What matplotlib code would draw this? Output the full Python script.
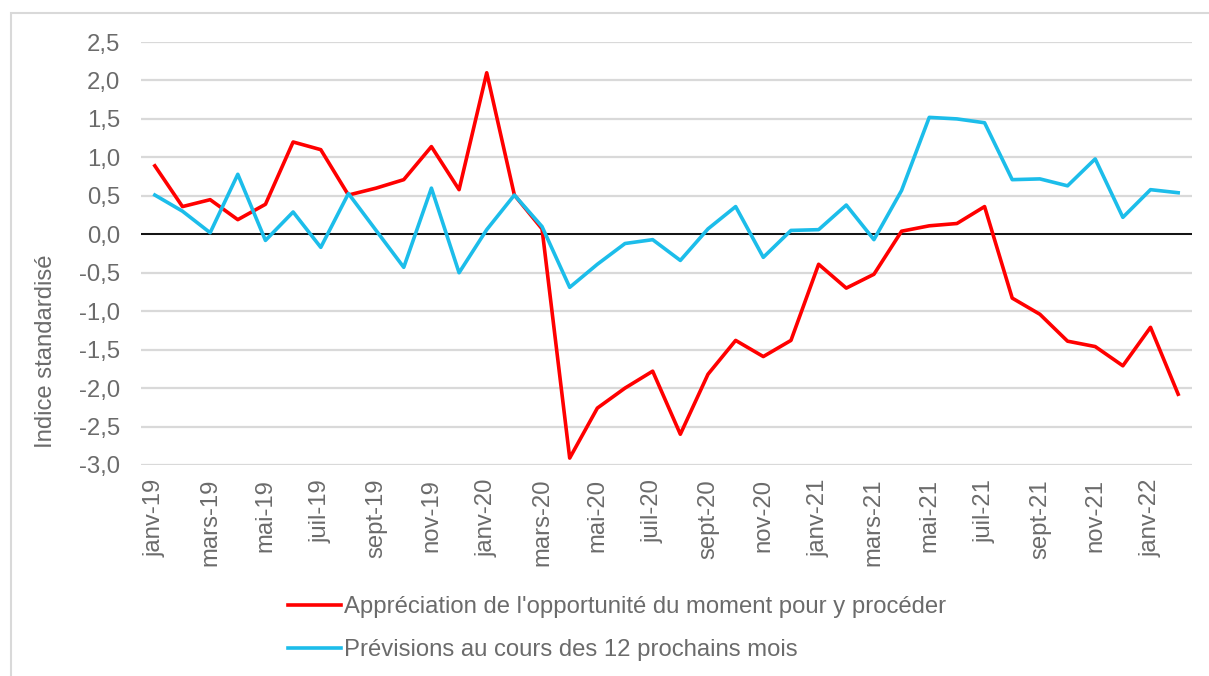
import numpy as np
import matplotlib.pyplot as plt
from matplotlib.patches import Rectangle

plt.rcParams['font.family'] = ['Liberation Sans', 'DejaVu Sans']

mois = ['janv', 'févr', 'mars', 'avr', 'mai', 'juin',
        'juil', 'août', 'sept', 'oct', 'nov', 'déc']
annees = ['19', '20', '21', '22']
n_points = 38
dates = [f'{mois[i % 12]}-{annees[i // 12]}' for i in range(n_points)]

opportunite = [0.89, 0.36, 0.45, 0.19, 0.39, 1.20, 1.10, 0.51, 0.60, 0.71,
               1.14, 0.58, 2.10, 0.51, 0.07, -2.91, -2.26, -2.00, -1.78, -2.60,
               -1.82, -1.38, -1.59, -1.38, -0.39, -0.70, -0.52, 0.04, 0.11, 0.14,
               0.36, -0.83, -1.04, -1.39, -1.46, -1.71, -1.21, -2.08]
previsions = [0.51, 0.30, 0.02, 0.78, -0.08, 0.29, -0.17, 0.53, 0.05, -0.43,
              0.60, -0.50, 0.06, 0.51, 0.10, -0.69, -0.39, -0.12, -0.07, -0.34,
              0.07, 0.36, -0.30, 0.05, 0.06, 0.38, -0.07, 0.57, 1.52, 1.50,
              1.45, 0.71, 0.72, 0.63, 0.98, 0.22, 0.58, 0.54]

label_opp = "Appréciation de l'opportunité du moment pour y procéder"
label_prev = "Prévisions au cours des 12 prochains mois"

gris = '#6b6b6b'
fs = 17.2
W, H = 1209, 676
fig = plt.figure(figsize=(W / 100, H / 100), dpi=100)
ax = fig.add_axes([141 / W, 1 - 465 / H, (1192 - 141) / W, (465 - 42) / H])

x = np.arange(n_points)
ax.plot(x, opportunite, color='#ff0000', lw=2.6, label=label_opp, zorder=3)
ax.plot(x, previsions, color='#1cbdea', lw=2.6, label=label_prev, zorder=3)
ax.axhline(0, color='black', lw=1.3, zorder=2)

ax.set_xlim(-0.5, n_points - 0.5)
ax.set_ylim(-3.0, 2.5)
yt = np.arange(-3.0, 2.51, 0.5)
ax.set_yticks(yt)
ax.set_yticklabels([f'{v:.1f}'.replace('.', ',') for v in yt])
ax.set_xticks(x[::2])
ax.set_xticklabels(dates[::2], rotation=90)
ax.tick_params(axis='both', length=0, labelsize=fs, colors=gris)
ax.tick_params(axis='y', pad=15)
ax.tick_params(axis='x', pad=10)
ax.grid(axis='y', color='#d9d9d9', lw=1.6, zorder=1)
for s in ax.spines.values():
    s.set_visible(False)

fig.text(46 / W, 1 - 351 / H, 'Indice standardisé', rotation=90,
         ha='center', va='center', fontsize=fs, color=gris)

leg = fig.legend(loc='upper left', bbox_to_anchor=(288 / W, 1 - 596 / H),
                 frameon=False, fontsize=fs, handlelength=2.2,
                 handletextpad=0.15, labelspacing=0.88, borderpad=0,
                 borderaxespad=0)
for t in leg.get_texts():
    t.set_color(gris)

fig.patches.append(Rectangle((11 / W, -0.1), 1.2, 1 - 13 / H + 0.1,
                             transform=fig.transFigure, fill=False,
                             edgecolor='#d9d9d9', lw=1.5))

fig.savefig('out.png', dpi=100)
